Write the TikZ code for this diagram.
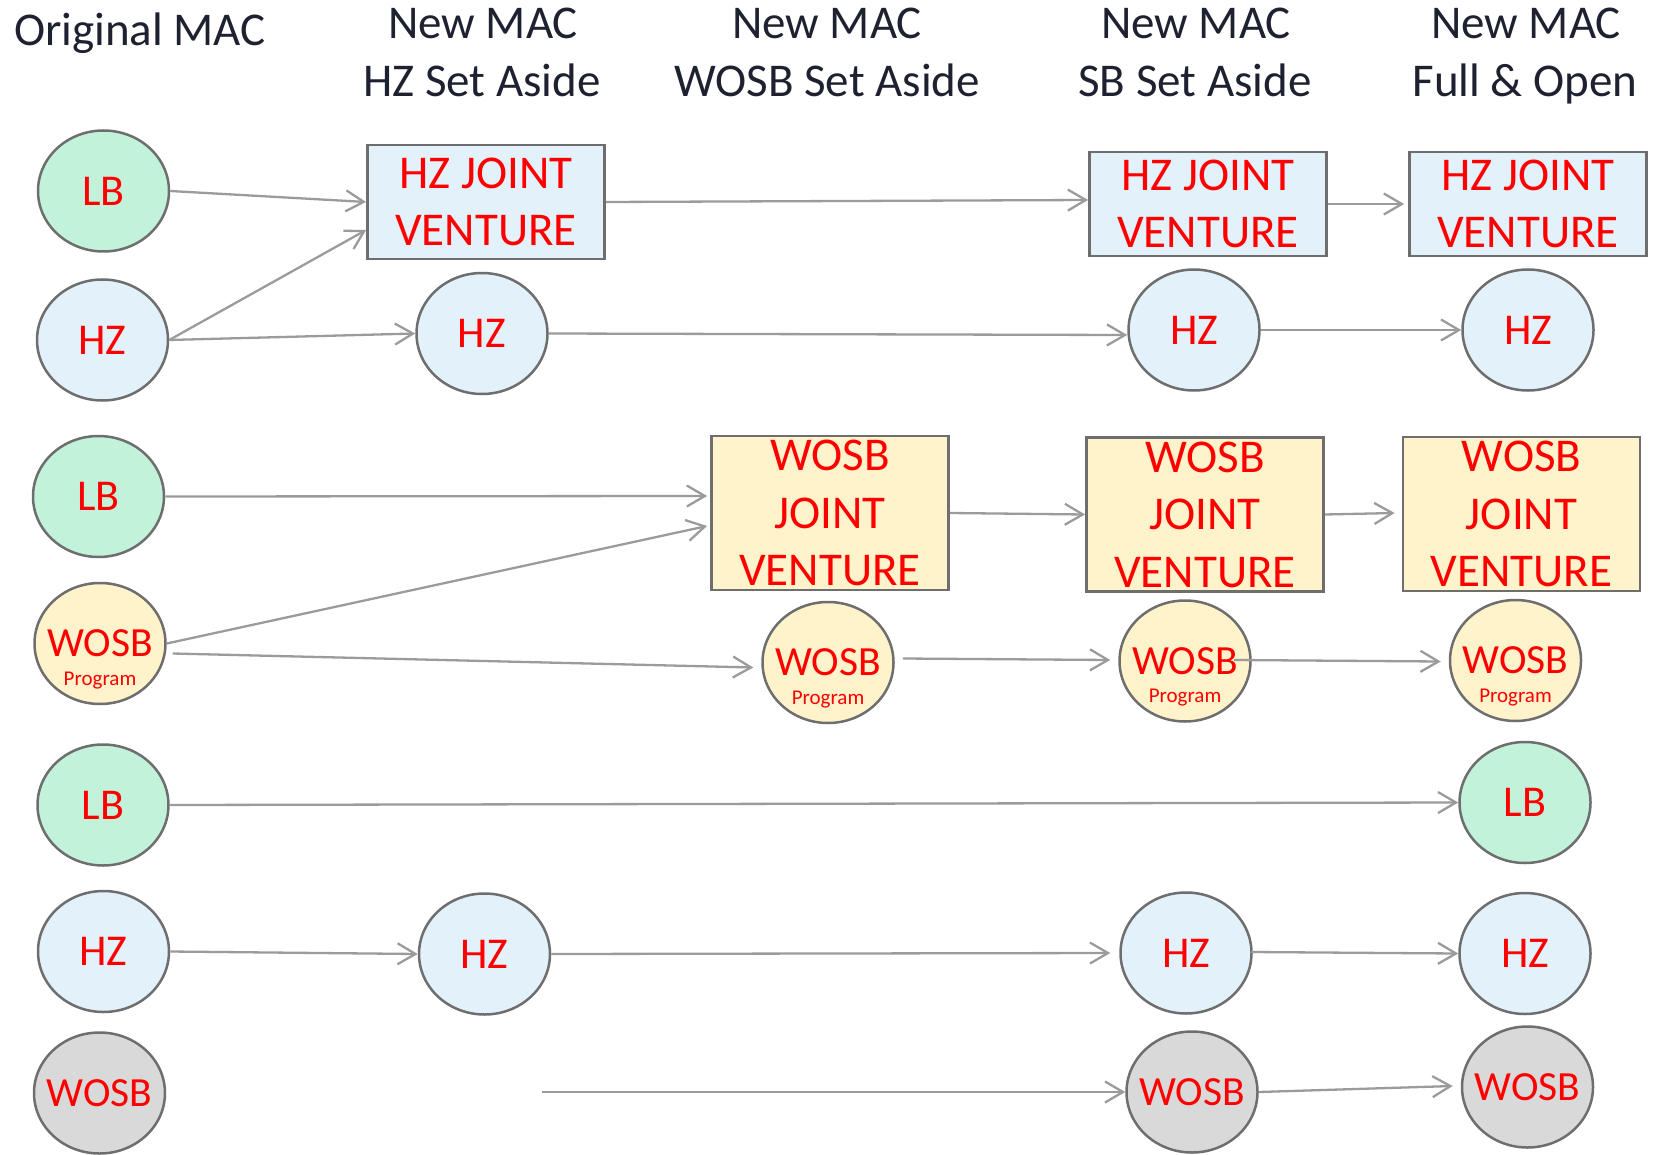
\documentclass[tikz,border=0pt]{standalone}
\usepackage{fontspec}
\setmainfont{Carlito}
\usetikzlibrary{arrows.meta,shapes.geometric,calc}
\definecolor{lbgreen}{RGB}{195,242,219}
\definecolor{hzblue}{RGB}{227,241,250}
\definecolor{wosbyel}{RGB}{255,243,204}
\definecolor{wosbgray}{RGB}{217,217,217}
\definecolor{edgegray}{RGB}{110,110,110}
\definecolor{arrowgray}{RGB}{155,155,155}
\definecolor{headtext}{RGB}{30,33,48}
\definecolor{redtext}{RGB}{255,0,0}
\newcommand{\zw}[1]{\makebox[0pt]{#1}}
\begin{document}
\begin{tikzpicture}[x=1pt,y=-1pt,
  hdr/.style={anchor=base, text=headtext, font=\fontsize{47}{56}\selectfont, inner sep=0},
  circ/.style={ellipse, draw=edgegray, line width=2.5pt, minimum width=131pt, minimum height=121pt, inner sep=0, text=redtext, font=\fontsize{44}{50}\selectfont},
  lbn/.style={circ, fill=lbgreen},
  hzn/.style={circ, fill=hzblue},
  wpn/.style={circ, fill=wosbyel, font=\fontsize{41.5}{48}\selectfont, label={[text=redtext, font=\fontsize{21}{24}\selectfont, yshift=-37pt]center:Program}},
  wgn/.style={circ, fill=wosbgray, font=\fontsize{41.5}{48}\selectfont},
  jvbox/.style={rectangle, draw=edgegray, line width=2.8pt, inner sep=0, align=center, text=redtext, font=\fontsize{47}{57.5}\selectfont},
  hzjv/.style={jvbox, fill=hzblue, minimum width=237pt, minimum height=104pt},
  wjv/.style={jvbox, fill=wosbyel, minimum width=237pt, minimum height=154pt},
  conn/.style={draw=arrowgray, line width=2.3pt, -{Straight Barb[length=18pt,width=21pt]}}
]
\useasboundingbox (0,0) rectangle (1656,1155);

% headers
\node[hdr] (h1) at (140,46) {Original MAC};
\node[hdr] (h2a) at (483,39) {New MAC};
\node[hdr] (h2b) at (482,97) {HZ Set Aside};
\node[hdr] (h3a) at (827,39) {New MAC};
\node[hdr] (h3b) at (827,97) {WOSB Set Aside};
\node[hdr] (h4a) at (1196,39) {New MAC};
\node[hdr] (h4b) at (1195,97) {SB Set Aside};
\node[hdr] (h5a) at (1526,39) {New MAC};
\node[hdr] (h5b) at (1525,97) {Full \& Open};

% group 1
\node[lbn] (lb1) at (103.5,191) {LB};
\node[hzn] (hz1) at (102.5,340) {HZ};
\node[hzjv, minimum height=114pt] (jv2) at (486,202) {HZ JOINT\\VENTURE};
\node[hzn] (hz2) at (482,333.5) {HZ};
\node[hzjv] (jv4) at (1208,204) {HZ JOINT\\VENTURE};
\node[hzn] (hz4) at (1194,330) {HZ};
\node[hzjv] (jv5) at (1528,204) {HZ JOINT\\VENTURE};
\node[hzn] (hz5) at (1528,330) {HZ};

% group 2
\node[lbn] (lb2) at (98.5,496.5) {LB};
\node[wpn] (wp1) at (100,643.5) {\zw{WOSB}};
\node[wjv] (wj3) at (830,513) {WOSB\\JOINT\\VENTURE};
\node[wpn] (wp3) at (828,662.5) {\zw{WOSB}};
\node[wjv] (wj4) at (1205,514.5) {WOSB\\JOINT\\VENTURE};
\node[wpn] (wp4) at (1185,661) {\zw{WOSB}};
\node[wjv] (wj5) at (1521.5,514) {WOSB\\JOINT\\VENTURE};
\node[wpn] (wp5) at (1515.5,660.5) {\zw{WOSB}};

% group 3
\node[lbn] (lb3) at (103,805) {LB};
\node[lbn] (lb5) at (1525,802.5) {LB};
\node[hzn] (hz1c) at (103.5,951.5) {HZ};
\node[hzn] (hz2c) at (484.5,954) {HZ};
\node[hzn] (hz4c) at (1186,953) {HZ};
\node[hzn] (hz5c) at (1525,953.5) {HZ};
\node[wgn] (wg1) at (99.5,1093) {\zw{WOSB}};
\node[wgn] (wg4) at (1192,1092) {\zw{WOSB}};
\node[wgn] (wg5) at (1527.5,1087) {\zw{WOSB}};
\coordinate (w0) at (542,1092);

% connectors group 1
\draw[conn] (lb1.east) -- (jv2.west);
\draw[conn] (hz1.east) -- ($(jv2.west)+(0,28)$);
\draw[conn] (hz1.east) -- (hz2.west);
\draw[conn] (jv2.east) -- ($(jv4.west)+(0,-4)$);
\draw[conn] (hz2.east) -- ($(hz4.west)+(0,5)$);
\draw[conn] (jv4.east) -- ($(jv5.west)+(-4,0)$);
\draw[conn] (hz4.east) -- (hz5.west);

% connectors group 2
\draw[conn] (lb2.east) -- ($(wj3.west)+(-3,-17)$);
\draw[conn] (wp1.east) -- ($(wj3.west)+(-3,13)$);
\draw[conn] ($(wp1.east)+(6,10)$) -- ($(wp3.west)+(-8,5)$);
\draw[conn] (wj3.east) -- (wj4.west);
\draw[conn] (wj4.east) -- ($(wj5.west)+(-7,-1)$);
\draw[conn] ($(wp3.east)+(8,-4)$) -- ($(wp4.west)+(-8,-1)$);
\draw[conn] ($(wp4.center)+(49,-1)$) -- ($(wp5.west)+(-8,1)$);

% connectors group 3
\draw[conn] (lb3.east) -- (lb5.west);
\draw[conn] (hz1c.east) -- (hz2c.west);
\draw[conn] (hz2c.east) -- ($(hz4c.west)+(-9,0)$);
\draw[conn] ($(hz4c.east)+(-2,-1)$) -- (hz5c.west);
\draw[conn] (w0) -- (wg4.west);
\draw[conn] (wg4.east) -- ($(wg5.west)+(-8,-1)$);
\end{tikzpicture}
\end{document}
